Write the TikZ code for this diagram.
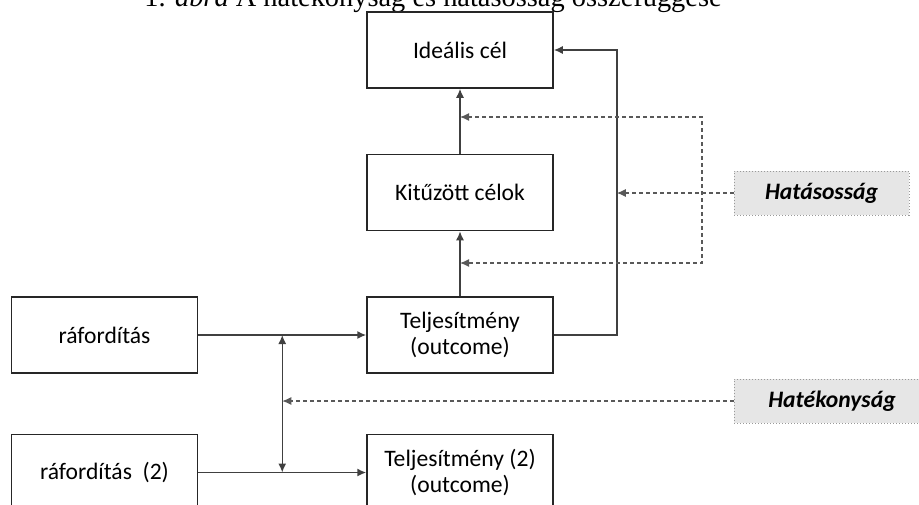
\documentclass[tikz,border=0pt]{standalone}
\usepackage{fontspec}
\setmainfont{Liberation Serif}
\newfontfamily\boxfont{Carlito}
\usepackage{tikz}
\usetikzlibrary{arrows.meta,positioning,calc}
\definecolor{linegray}{RGB}{64,64,64}
\definecolor{tagfill}{RGB}{230,230,230}

\begin{document}
\begin{tikzpicture}[
    x=0.5pt, y=-0.5pt,
    node distance=32.5pt and 84pt,
    box/.style={rectangle, draw=black!85, line width=0.75pt, minimum width=93pt, minimum height=38pt, align=center, font=\boxfont\fontsize{11.8}{13.4}\selectfont},
    tag/.style={rectangle, draw=black!40, densely dotted, line width=0.5pt, fill=tagfill, minimum width=87.5pt, minimum height=22pt, font=\boxfont\fontsize{11.8}{13.4}\selectfont\bfseries\itshape},
    conn/.style={draw=linegray, line width=0.75pt, -{Latex[length=4.5pt,width=4pt]}},
    dashconn/.style={draw=black!65, line width=0.6pt, dash pattern=on 2pt off 1.5pt, -{Latex[length=4.5pt,width=4pt]}}
]
\useasboundingbox (0,0) rectangle (919,504);
\clip (0,0) rectangle (919,504);

% title line, cut by the top edge
\node[anchor=base, inner sep=0pt, font=\fontsize{14.2}{16}\selectfont] (title) at (433,6.5) {1. \textit{ábra} A hatékonyság és hatásosság összefüggése};

% the chain of goals
\node[box] (ideal) at (460,50) {Ideális cél};
\node[box, below=of ideal] (kituzott) {Kitűzött célok};
\node[box, below=of kituzott] (telj) {Teljesítmény\\(outcome)};
\node[box, below=30pt of telj] (telj2) {Teljesítmény (2)\\(outcome)};
\node[box, left=of telj] (rafor) {ráfordítás};
\node[box, left=of telj2] (rafor2) {ráfordítás~~(2)};

% labels on the right
\node[tag] (hatasos) at (821.5,193) {Hatásosság};
\node[tag, minimum width=98pt] (hatekony) at (832,401) {Hatékonyság};

\coordinate[right=31.5pt of ideal.east] (rline);
\coordinate (dtop) at (702,117);
\coordinate (dbot) at (702,263);
\coordinate (mid) at ($(rafor.east)!0.5!(telj.west)$);

\draw[conn] (kituzott.north) -- (ideal.south);
\draw[conn] (telj.north) -- (kituzott.south);
\draw[conn] (telj.east) -| (rline) -- (ideal.east);
\draw[conn] (rafor.east) -- (telj.west);
\draw[conn] (rafor2.east) -- (telj2.west);
\draw[conn, {Latex[length=4.5pt,width=4pt]}-{Latex[length=4.5pt,width=4pt]}] (rafor.east -| mid) -- (rafor2.east -| mid);

\draw[dashconn] (hatasos.west) -- (hatasos.west -| rline);
\draw[dashconn, {Latex[length=4.5pt,width=4pt]}-{Latex[length=4.5pt,width=4pt]}] (dtop -| ideal.south) -- (dtop) -- (dbot) -- (dbot -| telj.north);
\draw[dashconn] (hatekony.west) -- (hatekony.west -| mid);
\end{tikzpicture}
\end{document}
